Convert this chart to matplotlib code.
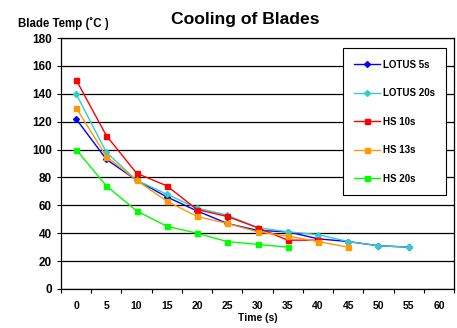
import matplotlib
matplotlib.use("Agg")
from matplotlib import pyplot as plt

plt.rcParams["font.family"] = ["Liberation Sans", "DejaVu Sans"]
plt.rcParams["font.weight"] = "bold"

categories = ["0", "5", "10", "15", "20", "25", "30", "35", "40", "45", "50", "55", "60"]
lotus_5s = [122, 93, 78, 66, 56, 47, 42, 41, 36, 34, 31, 30]
lotus_20s = [140, 98, 78, 68, 58, 53, 44, 41, 39, 34, 31, 30]
hs_10s = [150, 110, 83, 74, 57, 52, 44, 35, 35]
hs_13s = [130, 95, 78, 63, 52, 47, 41, 38, 34, 30]
hs_20s = [100, 74, 56, 45, 40, 34, 32, 30]

series = [
    ("LOTUS 5s", lotus_5s, "#0000FF", "D"),
    ("LOTUS 20s", lotus_20s, "#33CCCC", "D"),
    ("HS 10s", hs_10s, "#FF0000", "s"),
    ("HS 13s", hs_13s, "#FF9900", "s"),
    ("HS 20s", hs_20s, "#00FF00", "s"),
]

fig = plt.figure(figsize=(4.57, 3.28), dpi=100)
ax = fig.add_axes([0.1335, 0.119, 0.86, 0.765])

for name, vals, col, mk in series:
    ms = 3 if mk == "D" else 3.6
    ax.plot(range(len(vals)), vals, color=col, marker=mk, markersize=ms,
            linewidth=1, label=name)

ax.set_xlim(-0.5, len(categories) - 0.5)
ax.set_ylim(0, 180)
ax.set_yticks(range(0, 181, 20))
ax.set_xticks(range(len(categories)))
ax.set_xticklabels(categories)
ax.set_xticks([i - 0.5 for i in range(len(categories) + 1)], minor=True)
ax.tick_params(axis="x", which="major", length=0, pad=9, labelsize=7.5)
ax.tick_params(axis="x", which="minor", length=3, width=0.8)
ax.tick_params(axis="y", length=3, width=0.8, labelsize=8.5)
for lbl in ax.get_xticklabels() + ax.get_yticklabels():
    lbl.set_fontweight("bold")

ax.grid(True, axis="y", color="black", linewidth=0.9)
ax.set_axisbelow(True)
for sp in ax.spines.values():
    sp.set_linewidth(0.9)

ax.set_xlabel("Time (s)", fontsize=7.5, fontweight="bold", labelpad=1)
fig.text(0.04, 0.928, "Blade Temp (˚C )", fontsize=8.3, fontweight="bold", va="center")
fig.text(0.537, 0.94, "Cooling of Blades", fontsize=12.6, fontweight="bold", ha="center", va="center")

leg = ax.legend(loc="upper right", bbox_to_anchor=(0.98, 0.96), fontsize=7,
                frameon=True, fancybox=False, edgecolor="black", framealpha=1,
                labelspacing=1.9, handlelength=2.6, handletextpad=0.3,
                borderpad=1.2, borderaxespad=0)
leg.get_frame().set_linewidth(0.8)
for t in leg.get_texts():
    t.set_fontweight("bold")

fig.savefig("out.png", dpi=100)
